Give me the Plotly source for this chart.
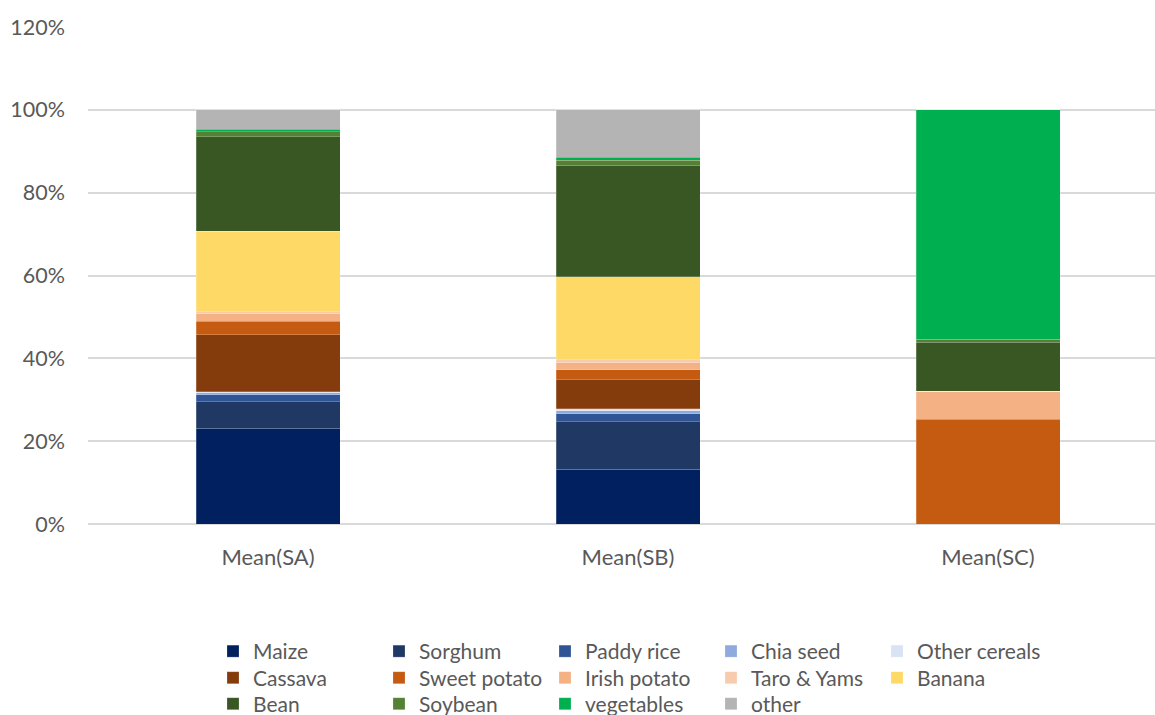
import plotly.graph_objects as go

# Crop share by sample group (percent of total)
categories = ["Mean(SA)", "Mean(SB)", "Mean(SC)"]

maize = [23.1, 13.2, 0.0]
sorghum = [6.4, 11.5, 0.0]
paddy_rice = [1.7, 1.9, 0.0]
chia_seed = [0.5, 0.7, 0.0]
other_cereals = [0.2, 0.5, 0.0]
cassava = [13.8, 7.1, 0.0]
sweet_potato = [3.2, 2.3, 25.3]
irish_potato = [1.9, 1.7, 6.7]
taro_yams = [0.4, 0.7, 0.0]
banana = [19.5, 20.1, 0.0]
bean = [22.8, 26.9, 11.9]
soybean = [1.2, 1.2, 0.7]
vegetables = [0.6, 0.8, 55.4]
other = [4.7, 11.4, 0.0]

y_ticks = [0, 0.2, 0.4, 0.6, 0.8, 1.0, 1.2]

series = [
    ("Maize", maize, "#002060"),
    ("Sorghum", sorghum, "#203864"),
    ("Paddy rice", paddy_rice, "#2F5597"),
    ("Chia seed", chia_seed, "#8FAADC"),
    ("Other cereals", other_cereals, "#DAE3F3"),
    ("Cassava", cassava, "#843C0C"),
    ("Sweet potato", sweet_potato, "#C55A11"),
    ("Irish potato", irish_potato, "#F4B183"),
    ("Taro & Yams", taro_yams, "#F8CBAD"),
    ("Banana", banana, "#FFD966"),
    ("Bean", bean, "#385723"),
    ("Soybean", soybean, "#548235"),
    ("vegetables", vegetables, "#00B050"),
    ("other", other, "#B4B4B4"),
]

FONT = "Lato"
TEXT = "#595959"

fig = go.Figure()
legend_ids = ["legend", "legend2", "legend3"]
for i, (name, vals, color) in enumerate(series):
    fig.add_trace(go.Bar(
        x=categories,
        y=[v / 100 for v in vals],
        name=name,
        width=0.4,
        marker=dict(color=color, line=dict(color="rgba(255,255,255,0.35)", width=0.6)),
        legend=legend_ids[i // 5],
    ))

W, H = 1155, 715
row_centers = [651.5, 678, 704]
legend_common = dict(
    orientation="h",
    xref="container", yref="container",
    x=213 / W, xanchor="left", yanchor="middle",
    font=dict(family=FONT, size=21, color=TEXT),
    entrywidth=121, entrywidthmode="pixels",
    bgcolor="rgba(0,0,0,0)", borderwidth=0,
    traceorder="normal",
)

layout_legends = {}
for lid, yc in zip(legend_ids, row_centers):
    layout_legends[lid] = dict(legend_common, y=(H - yc) / H)

fig.update_layout(
    width=W, height=H,
    barmode="stack",
    plot_bgcolor="white", paper_bgcolor="white",
    margin=dict(l=88, r=0, t=27, b=191, autoexpand=False),
    font=dict(family=FONT, color=TEXT),
    showlegend=True,
    **layout_legends,
)

fig.update_xaxes(
    range=[-0.5, 2.5 - 13 / 360],
    showgrid=False, showline=False, zeroline=False,
    ticks="", ticklabelstandoff=18,
    tickfont=dict(family=FONT, size=22, color=TEXT),
)
fig.update_yaxes(
    range=[0, 1.2],
    tickvals=y_ticks, tickformat=".0%",
    showgrid=True, gridcolor="#D9D9D9", gridwidth=1.5,
    zeroline=True, zerolinecolor="#D9D9D9", zerolinewidth=1.5,
    showline=False, ticks="", ticklabelstandoff=22,
    tickfont=dict(family=FONT, size=21.5, color=TEXT),
)

fig.write_html("out.html")
